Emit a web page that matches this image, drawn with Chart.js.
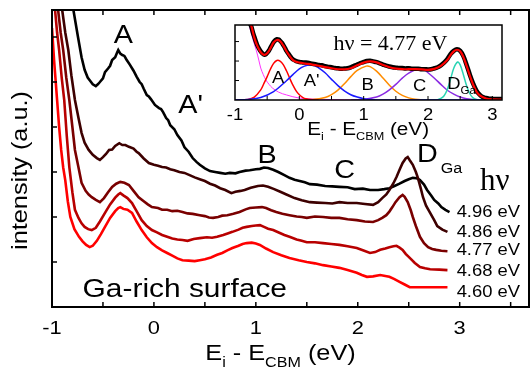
<!DOCTYPE html>
<html>
<head>
<meta charset="utf-8">
<script src="https://cdn.jsdelivr.net/npm/chart.js@4.4.0/dist/chart.umd.min.js"></script>
<style>
  html, body { margin: 0; padding: 0; background: #fff; }
  #wrap { position: relative; width: 532px; height: 368px; }
  canvas { position: absolute; }
</style>
</head>
<body>
<div id="wrap">
  <canvas id="main" width="532" height="368" style="left:0;top:0"></canvas>
  <canvas id="inset" width="320" height="132" style="left:200px;top:12px"></canvas>
</div>
<script>
// ---- main panel: spectra for each photon energy, [E_i - E_CBM (eV), intensity (a.u.)]
const hvLabels = ['4.96 eV', '4.86 eV', '4.77 eV', '4.68 eV', '4.60 eV'];
const hvColors = ['#000000', '#3d0000', '#7a0000', '#b80000', '#ff0000'];

const spec496 = [[-0.79,6.6],[-0.745,6.0],[-0.71,5.55],[-0.68,5.27],[-0.65,5.1],[-0.63,5.04],[-0.6,4.95],[-0.57,4.91],[-0.55,4.95],[-0.53,5.0],[-0.5,5.08],[-0.48,5.22],[-0.45,5.3],[-0.43,5.36],[-0.41,5.49],[-0.38,5.55],[-0.36,5.66],[-0.35,5.71],[-0.33,5.63],[-0.31,5.6],[-0.29,5.58],[-0.27,5.5],[-0.235,5.38],[-0.2,5.25],[-0.17,5.12],[-0.14,5.0],[-0.12,4.95],[-0.1,4.85],[-0.07,4.71],[-0.05,4.68],[-0.03,4.62],[0.01,4.49],[0.05,4.42],[0.07,4.4],[0.09,4.33],[0.12,4.2],[0.14,4.15],[0.16,4.04],[0.2,3.95],[0.23,3.82],[0.27,3.7],[0.3,3.55],[0.34,3.45],[0.38,3.31],[0.42,3.22],[0.45,3.16],[0.5,3.08],[0.55,3.02],[0.6,3.0],[0.65,2.98],[0.7,2.96],[0.745,2.98],[0.8,2.97],[0.84,3.0],[0.9,3.03],[0.94,3.04],[1.0,3.06],[1.04,3.07],[1.08,3.1],[1.12,3.09],[1.17,3.05],[1.22,3.0],[1.28,2.93],[1.33,2.87],[1.38,2.83],[1.43,2.8],[1.48,2.77],[1.53,2.73],[1.6,2.72],[1.68,2.69],[1.75,2.68],[1.82,2.67],[1.9,2.66],[1.97,2.62],[2.05,2.63],[2.12,2.6],[2.2,2.6],[2.26,2.62],[2.31,2.64],[2.36,2.69],[2.41,2.74],[2.46,2.8],[2.5,2.84],[2.54,2.87],[2.58,2.86],[2.61,2.82],[2.65,2.72],[2.68,2.6],[2.72,2.48],[2.75,2.38],[2.79,2.3],[2.82,2.22],[2.86,2.16],[2.9,2.11]];
const spec486 = [[-0.9,6.6],[-0.87,6.1],[-0.84,5.71],[-0.81,5.15],[-0.775,4.6],[-0.74,4.2],[-0.71,3.87],[-0.68,3.65],[-0.64,3.49],[-0.6,3.38],[-0.56,3.31],[-0.53,3.27],[-0.5,3.33],[-0.47,3.4],[-0.44,3.49],[-0.41,3.5],[-0.38,3.58],[-0.34,3.64],[-0.31,3.6],[-0.28,3.6],[-0.245,3.56],[-0.2,3.52],[-0.17,3.45],[-0.15,3.42],[-0.1,3.3],[-0.05,3.2],[0.0,3.16],[0.04,3.14],[0.08,3.11],[0.12,3.1],[0.16,3.06],[0.2,3.04],[0.25,3.0],[0.3,2.98],[0.35,2.93],[0.4,2.88],[0.45,2.84],[0.5,2.8],[0.55,2.74],[0.6,2.7],[0.65,2.64],[0.7,2.6],[0.76,2.53],[0.8,2.56],[0.85,2.58],[0.89,2.6],[0.95,2.65],[1.02,2.69],[1.07,2.7],[1.12,2.67],[1.18,2.62],[1.24,2.56],[1.3,2.5],[1.38,2.42],[1.45,2.37],[1.53,2.33],[1.6,2.32],[1.68,2.31],[1.75,2.3],[1.82,2.33],[1.9,2.31],[1.99,2.31],[2.07,2.29],[2.15,2.27],[2.2,2.33],[2.24,2.42],[2.28,2.5],[2.31,2.6],[2.35,2.75],[2.38,2.89],[2.41,3.05],[2.44,3.2],[2.47,3.3],[2.49,3.33],[2.51,3.26],[2.54,3.16],[2.57,3.0],[2.59,2.87],[2.62,2.62],[2.64,2.44],[2.67,2.25],[2.71,2.09],[2.75,1.93],[2.78,1.8],[2.83,1.72],[2.88,1.67]];
const spec477 = [[-0.94,6.6],[-0.915,6.1],[-0.89,5.71],[-0.86,5.1],[-0.83,4.6],[-0.8,4.0],[-0.775,3.49],[-0.74,3.1],[-0.71,2.76],[-0.67,2.58],[-0.64,2.5],[-0.61,2.44],[-0.57,2.38],[-0.53,2.33],[-0.49,2.42],[-0.45,2.55],[-0.41,2.67],[-0.37,2.74],[-0.33,2.78],[-0.29,2.76],[-0.245,2.71],[-0.2,2.58],[-0.15,2.44],[-0.1,2.35],[-0.06,2.28],[-0.02,2.22],[0.04,2.2],[0.08,2.16],[0.13,2.16],[0.18,2.13],[0.23,2.14],[0.28,2.11],[0.33,2.08],[0.38,2.07],[0.45,2.04],[0.5,2.02],[0.54,1.99],[0.58,1.98],[0.63,2.0],[0.67,2.03],[0.72,2.04],[0.78,2.07],[0.84,2.11],[0.9,2.17],[0.94,2.2],[1.0,2.21],[1.06,2.22],[1.1,2.2],[1.15,2.15],[1.2,2.11],[1.26,2.07],[1.33,2.04],[1.4,2.01],[1.45,2.0],[1.5,1.98],[1.58,2.01],[1.66,2.0],[1.74,1.98],[1.82,1.98],[1.9,1.95],[1.99,1.93],[2.07,1.9],[2.15,1.89],[2.2,1.93],[2.24,1.98],[2.28,2.04],[2.31,2.12],[2.34,2.22],[2.37,2.33],[2.41,2.44],[2.44,2.49],[2.46,2.45],[2.49,2.33],[2.52,2.15],[2.54,2.0],[2.57,1.8],[2.61,1.56],[2.65,1.42],[2.69,1.33],[2.73,1.29],[2.77,1.27],[2.82,1.25],[2.88,1.24]];
const spec468 = [[-0.97,6.6],[-0.95,6.1],[-0.93,5.71],[-0.905,5.1],[-0.88,4.6],[-0.855,3.8],[-0.83,3.11],[-0.8,2.55],[-0.775,2.16],[-0.74,1.98],[-0.71,1.86],[-0.68,1.78],[-0.645,1.73],[-0.61,1.71],[-0.57,1.76],[-0.53,1.9],[-0.48,2.09],[-0.43,2.28],[-0.38,2.43],[-0.35,2.5],[-0.33,2.53],[-0.3,2.48],[-0.26,2.42],[-0.215,2.31],[-0.17,2.13],[-0.12,1.93],[-0.07,1.8],[-0.02,1.71],[0.03,1.66],[0.08,1.6],[0.13,1.56],[0.18,1.52],[0.23,1.5],[0.28,1.49],[0.33,1.47],[0.39,1.51],[0.45,1.53],[0.52,1.55],[0.57,1.54],[0.62,1.56],[0.68,1.6],[0.73,1.64],[0.77,1.67],[0.83,1.72],[0.87,1.76],[0.91,1.78],[0.96,1.8],[1.0,1.81],[1.04,1.82],[1.08,1.78],[1.12,1.74],[1.17,1.71],[1.23,1.65],[1.28,1.6],[1.33,1.56],[1.4,1.5],[1.45,1.47],[1.5,1.44],[1.58,1.44],[1.66,1.42],[1.74,1.4],[1.82,1.38],[1.9,1.35],[1.99,1.31],[2.05,1.26],[2.12,1.2],[2.17,1.22],[2.22,1.27],[2.27,1.3],[2.31,1.33],[2.35,1.35],[2.38,1.36],[2.41,1.32],[2.44,1.27],[2.47,1.18],[2.51,1.09],[2.56,0.98],[2.61,0.89],[2.66,0.86],[2.71,0.84],[2.8,0.83],[2.88,0.82]];
const spec460 = [[-1.0,6.2],[-0.99,5.85],[-0.98,5.49],[-0.965,5.05],[-0.95,4.6],[-0.93,4.0],[-0.91,3.49],[-0.89,3.1],[-0.87,2.82],[-0.845,2.35],[-0.82,2.0],[-0.78,1.73],[-0.735,1.56],[-0.7,1.46],[-0.665,1.38],[-0.63,1.33],[-0.6,1.36],[-0.56,1.47],[-0.52,1.62],[-0.48,1.78],[-0.43,1.98],[-0.38,2.13],[-0.35,2.2],[-0.33,2.22],[-0.3,2.18],[-0.26,2.16],[-0.215,2.09],[-0.17,1.9],[-0.12,1.71],[-0.07,1.55],[-0.02,1.42],[0.03,1.33],[0.08,1.26],[0.13,1.2],[0.18,1.14],[0.23,1.08],[0.28,1.04],[0.34,1.03],[0.4,1.02],[0.45,1.04],[0.5,1.06],[0.56,1.1],[0.62,1.16],[0.67,1.2],[0.72,1.26],[0.77,1.31],[0.83,1.36],[0.87,1.4],[0.91,1.42],[0.96,1.43],[1.0,1.41],[1.04,1.38],[1.1,1.3],[1.17,1.22],[1.25,1.15],[1.33,1.09],[1.42,1.04],[1.5,1.0],[1.58,0.97],[1.66,0.93],[1.74,0.9],[1.82,0.87],[1.9,0.82],[1.99,0.76],[2.04,0.71],[2.09,0.67],[2.15,0.68],[2.22,0.71],[2.27,0.69],[2.31,0.67],[2.36,0.62],[2.41,0.56],[2.46,0.5],[2.51,0.44],[2.58,0.44],[2.64,0.44],[2.75,0.44],[2.88,0.44]];

const xTickLabels = [-1, 0, 1, 2, 3];
const xMinorTicks = [-0.5, 0, 0.5, 1, 1.5, 2, 2.5, 3, 3.5];
const yTicks = [1, 2, 3, 4, 5, 6];

// ---- inset: hv = 4.77 eV with fit components
const insetData = [[-0.78,4.0],[-0.75,3.8],[-0.72,3.45],[-0.7,3.25],[-0.67,2.95],[-0.65,2.78],[-0.62,2.6],[-0.6,2.5],[-0.57,2.38],[-0.55,2.33],[-0.52,2.35],[-0.5,2.42],[-0.47,2.55],[-0.45,2.68],[-0.42,2.85],[-0.4,2.97],[-0.37,3.08],[-0.35,3.12],[-0.32,3.1],[-0.3,3.04],[-0.27,2.93],[-0.25,2.82],[-0.22,2.65],[-0.2,2.52],[-0.17,2.38],[-0.15,2.28],[-0.12,2.15],[-0.1,2.08],[-0.05,2.0],[0.0,1.95],[0.05,1.93],[0.1,1.92],[0.15,1.9],[0.2,1.86],[0.25,1.84],[0.3,1.8],[0.35,1.78],[0.4,1.74],[0.45,1.7],[0.5,1.68],[0.55,1.64],[0.6,1.63],[0.65,1.6],[0.7,1.62],[0.75,1.63],[0.8,1.68],[0.85,1.75],[0.9,1.82],[0.95,1.9],[1.0,1.95],[1.05,2.0],[1.1,2.02],[1.15,1.98],[1.2,1.94],[1.25,1.88],[1.3,1.82],[1.35,1.76],[1.4,1.72],[1.45,1.68],[1.5,1.66],[1.55,1.64],[1.6,1.64],[1.65,1.62],[1.7,1.63],[1.75,1.6],[1.8,1.6],[1.85,1.6],[1.9,1.58],[1.95,1.58],[2.0,1.57],[2.05,1.58],[2.1,1.63],[2.15,1.68],[2.2,1.78],[2.25,1.92],[2.3,2.1],[2.35,2.35],[2.4,2.52],[2.45,2.6],[2.5,2.52],[2.55,2.25],[2.6,1.8],[2.65,1.3],[2.7,0.85],[2.75,0.5],[2.8,0.28],[2.85,0.15],[2.9,0.1],[2.95,0.07],[3.0,0.06],[3.05,0.05],[3.1,0.05],[3.15,0.05]];
const insetFit = [[-0.8,4.3],[-0.75,3.85],[-0.7,3.2],[-0.65,2.75],[-0.6,2.45],[-0.55,2.32],[-0.5,2.4],[-0.45,2.65],[-0.4,2.95],[-0.35,3.08],[-0.3,3.02],[-0.25,2.8],[-0.2,2.5],[-0.15,2.25],[-0.1,2.05],[-0.05,1.96],[0.0,1.92],[0.1,1.87],[0.2,1.82],[0.3,1.76],[0.4,1.69],[0.5,1.63],[0.6,1.58],[0.7,1.57],[0.8,1.63],[0.9,1.78],[1.0,1.92],[1.1,1.98],[1.2,1.93],[1.3,1.8],[1.4,1.68],[1.5,1.61],[1.6,1.58],[1.7,1.58],[1.8,1.58],[1.9,1.57],[2.0,1.55],[2.1,1.6],[2.2,1.75],[2.3,2.05],[2.35,2.3],[2.4,2.5],[2.45,2.58],[2.5,2.5],[2.55,2.2],[2.6,1.75],[2.65,1.25],[2.7,0.8],[2.75,0.45],[2.8,0.25],[2.9,0.08],[3.0,0.03],[3.15,0.02]];
const compBackground = [[-0.82,4.6],[-0.78,3.85],[-0.72,3.1],[-0.67,2.56],[-0.63,2.05],[-0.6,1.64],[-0.56,1.3],[-0.52,1.03],[-0.47,0.8],[-0.42,0.62],[-0.32,0.4],[-0.2,0.26],[0.0,0.1],[0.3,0.04],[0.7,0.01],[1.2,0]];
const compA = [[-1,0],[-0.8,0.03],[-0.7,0.15],[-0.6,0.52],[-0.55,0.85],[-0.5,1.2],[-0.45,1.58],[-0.4,1.88],[-0.35,2.03],[-0.3,2.0],[-0.25,1.82],[-0.2,1.5],[-0.15,1.12],[-0.1,0.76],[-0.05,0.47],[0.0,0.27],[0.05,0.14],[0.1,0.06],[0.2,0.01],[0.3,0]];
const compA2 = [[-1,0],[-0.8,0.03],[-0.6,0.13],[-0.4,0.43],[-0.2,0.99],[-0.1,1.3],[0.0,1.6],[0.08,1.74],[0.16,1.8],[0.24,1.76],[0.3,1.65],[0.4,1.4],[0.5,1.06],[0.6,0.74],[0.7,0.47],[0.8,0.27],[0.9,0.15],[1.0,0.07],[1.1,0.03],[1.3,0],[3.15,0]];
const compB = [[0.0,0],[0.2,0.02],[0.4,0.13],[0.5,0.28],[0.6,0.51],[0.7,0.83],[0.8,1.2],[0.9,1.52],[1.04,1.74],[1.1,1.71],[1.2,1.48],[1.3,1.13],[1.4,0.76],[1.5,0.45],[1.6,0.24],[1.7,0.11],[1.8,0.04],[2.0,0],[2.2,0]];
const compC = [[0.8,0],[1.0,0.03],[1.2,0.15],[1.3,0.3],[1.4,0.52],[1.5,0.8],[1.6,1.12],[1.7,1.38],[1.85,1.59],[1.95,1.52],[2.0,1.4],[2.1,1.12],[2.2,0.8],[2.3,0.5],[2.4,0.3],[2.5,0.15],[2.6,0.07],[2.8,0.01],[3.0,0]];
const compD = [[1.9,0],[2.1,0.002],[2.15,0.02],[2.2,0.08],[2.25,0.22],[2.3,0.54],[2.35,1.06],[2.4,1.63],[2.46,1.95],[2.5,1.8],[2.55,1.3],[2.6,0.73],[2.65,0.32],[2.7,0.11],[2.75,0.03],[2.8,0.01],[2.9,0],[3.15,0]];

const insetXTicks = [-1, 0, 1, 2, 3];
const insetXMinor = [-0.5, 0, 0.5, 1, 1.5, 2, 2.5, 3];
const insetYTicks = [1, 2, 3];

const SANS = '"Liberation Sans", Arial, sans-serif';
const SERIF = '"Liberation Serif", "Times New Roman", serif';
const STRETCH = 1.15; // the original lettering is wider than Arial

const toPts = arr => arr.map(p => ({ x: p[0], y: p[1] }));

// draw horizontally stretched text, returns its width
function sText(ctx, str, x, y, size, align, family, sx) {
    family = family || SANS;
    sx = sx || (family === SANS ? STRETCH : 1);
    ctx.save();
    ctx.font = size + 'px ' + family;
    const w = ctx.measureText(str).width * sx;
    const x0 = align === 'center' ? x - w / 2 : (align === 'right' ? x - w : x);
    ctx.translate(x0, y);
    ctx.scale(sx, 1);
    ctx.textAlign = 'left';
    ctx.textBaseline = 'alphabetic';
    ctx.fillStyle = '#000';
    ctx.fillText(str, 0, 0);
    ctx.restore();
    return w;
}

// text with subscripts: parts = [[text, isSub], ...]
function richText(ctx, parts, x, y, size, align) {
    const subSize = Math.round(size * 0.62);
    let total = 0;
    ctx.save();
    parts.forEach(p => {
        ctx.font = (p[1] ? subSize : size) + 'px ' + SANS;
        total += ctx.measureText(p[0]).width * STRETCH;
    });
    ctx.restore();
    let cx = align === 'center' ? x - total / 2 : x;
    parts.forEach(p => {
        const w = sText(ctx, p[0], cx, p[1] ? y + size * 0.3 : y, p[1] ? subSize : size, 'left');
        cx += w;
    });
}

function seg(ctx, x1, y1, x2, y2) {
    ctx.beginPath();
    ctx.moveTo(x1, y1);
    ctx.lineTo(x2, y2);
    ctx.stroke();
}

const mainDecor = {
    id: 'mainDecor',
    afterDatasetsDraw(chart) {
        const { ctx, chartArea: a, scales: { x, y } } = chart;
        ctx.save();
        ctx.strokeStyle = '#000';
        ctx.lineWidth = 2;
        ctx.strokeRect(a.left, a.top, a.right - a.left, a.bottom - a.top);
        ctx.lineWidth = 1.5;
        xMinorTicks.forEach(v => {
            const px = x.getPixelForValue(v);
            seg(ctx, px, a.bottom, px, a.bottom - 5);
            seg(ctx, px, a.top, px, a.top + 5);
        });
        yTicks.forEach(v => {
            const py = y.getPixelForValue(v);
            seg(ctx, a.left, py, a.left + 5, py);
        });
        // tick labels
        xTickLabels.forEach(v => {
            sText(ctx, String(v), x.getPixelForValue(v), a.bottom + 27, 19, 'center');
        });
        // axis titles
        richText(ctx, [['E', false], ['i', true], [' - E', false], ['CBM', true], [' (eV)', false]],
            (a.left + a.right) / 2 - 10, a.bottom + 53, 22, 'center');
        ctx.save();
        ctx.translate(27, (a.top + a.bottom) / 2 + 12);
        ctx.rotate(-Math.PI / 2);
        sText(ctx, 'intensity (a.u.)', 0, 0, 22, 'center');
        ctx.restore();

        // peak labels
        const X = v => x.getPixelForValue(v), Y = v => y.getPixelForValue(v);
        sText(ctx, 'A', X(-0.30), Y(5.87), 25, 'center');
        sText(ctx, "A'", X(0.36), Y(4.31), 25, 'center');
        sText(ctx, 'B', X(1.11), Y(3.2), 25, 'center');
        sText(ctx, 'C', X(1.87), Y(2.87), 25, 'center');
        const dw = sText(ctx, 'D', X(2.58), Y(3.22), 25, 'left');
        sText(ctx, 'Ga', X(2.58) + dw + 3, Y(2.98), 14, 'left');
        sText(ctx, 'h\u03bd', X(3.2), Y(2.6), 31, 'left', SERIF);
        const labY = [2.0, 1.56, 1.16, 0.69, 0.22];
        hvLabels.forEach((t, i) => sText(ctx, t, X(2.97), Y(labY[i]), 16, 'left'));
        sText(ctx, 'Ga-rich surface', X(-0.70), Y(0.22), 26, 'left');
        ctx.restore();
    }
};

const insetDecor = {
    id: 'insetDecor',
    beforeDatasetsDraw(chart) {
        const { ctx, chartArea: a } = chart;
        ctx.save();
        ctx.fillStyle = '#fff';
        ctx.fillRect(a.left, a.top, a.right - a.left, a.bottom - a.top);
        ctx.restore();
    },
    afterDatasetsDraw(chart) {
        const { ctx, chartArea: a, scales: { x, y } } = chart;
        ctx.save();
        ctx.strokeStyle = '#000';
        ctx.lineWidth = 1.5;
        ctx.strokeRect(a.left, a.top, a.right - a.left, a.bottom - a.top);
        ctx.lineWidth = 1;
        insetXMinor.forEach(v => {
            const px = x.getPixelForValue(v);
            seg(ctx, px, a.bottom, px, a.bottom - 4);
        });
        insetYTicks.forEach(v => {
            const py = y.getPixelForValue(v);
            seg(ctx, a.left, py, a.left + 4, py);
        });
        insetXTicks.forEach(v => {
            sText(ctx, String(v), x.getPixelForValue(v), a.bottom + 20, 16, 'center');
        });
        richText(ctx, [['E', false], ['i', true], [' - E', false], ['CBM', true], [' (eV)', false]],
            x.getPixelForValue(1.07), a.bottom + 35, 18, 'center');

        const X = v => x.getPixelForValue(v), Y = v => y.getPixelForValue(v);
        sText(ctx, 'h\u03bd = 4.77 eV', X(0.53), Y(2.56), 22, 'left', SERIF);
        sText(ctx, 'A', X(-0.33), Y(0.87), 16, 'center');
        sText(ctx, "A'", X(0.19), Y(0.72), 16, 'center');
        sText(ctx, 'B', X(1.06), Y(0.51), 16, 'center');
        sText(ctx, 'C', X(1.87), Y(0.46), 16, 'center');
        const dw = sText(ctx, 'D', X(2.3), Y(0.56), 16, 'left');
        sText(ctx, 'Ga', X(2.3) + dw, Y(0.3), 10, 'left');
        ctx.restore();
    }
};

const specSets = [spec496, spec486, spec477, spec468, spec460];

new Chart(document.getElementById('main'), {
    type: 'scatter',
    data: {
        datasets: specSets.map((s, i) => ({
            label: hvLabels[i],
            data: toPts(s),
            showLine: true,
            borderColor: hvColors[i],
            borderWidth: 2.6,
            pointRadius: 0,
            tension: 0,
            clip: 0
        })).reverse()
    },
    options: {
        responsive: false,
        animation: false,
        devicePixelRatio: 1,
        layout: { padding: { left: 52, right: 3, top: 10, bottom: 61 } },
        plugins: { legend: { display: false }, tooltip: { enabled: false } },
        scales: {
            x: { type: 'linear', display: false, min: -1, max: 3.68 },
            y: { type: 'linear', display: false, min: 0, max: 6.6 }
        }
    },
    plugins: [mainDecor]
});

const comp = (data, color, w) => ({
    data: toPts(data),
    showLine: true,
    borderColor: color,
    borderWidth: w,
    pointRadius: 0,
    tension: 0.35,
    clip: 0
});

// Chart.js paints the first dataset last, so the fit line goes first
new Chart(document.getElementById('inset'), {
    type: 'scatter',
    data: {
        datasets: [
            comp(insetFit, '#ff0000', 2.2),
            comp(insetData, '#000000', 4.5),
            comp(compA2, '#1a1aff', 1.5),
            comp(compA, '#ff0000', 1.5),
            comp(compD, '#2ad4b4', 1.5),
            comp(compC, '#8a2be2', 1.5),
            comp(compB, '#ff8c00', 1.5),
            comp(compBackground, '#ff33ff', 1)
        ]
    },
    options: {
        responsive: false,
        animation: false,
        devicePixelRatio: 1,
        layout: { padding: { left: 35, right: 18, top: 13, bottom: 44 } },
        plugins: { legend: { display: false }, tooltip: { enabled: false } },
        scales: {
            x: { type: 'linear', display: false, min: -1, max: 3.15 },
            y: { type: 'linear', display: false, min: 0, max: 3.85 }
        }
    },
    plugins: [insetDecor]
});
</script>
</body>
</html>
